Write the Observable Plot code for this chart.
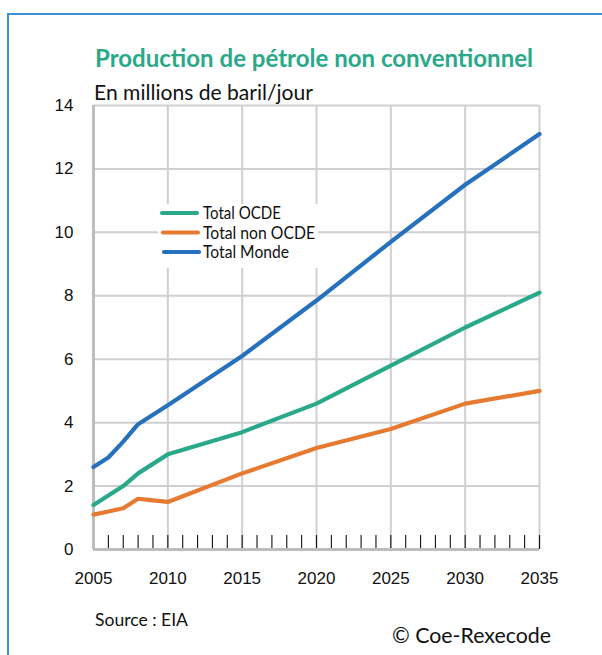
<!DOCTYPE html>
<html>
<head>
<meta charset="utf-8">
<script src="https://cdn.jsdelivr.net/npm/d3@7"></script>
<script src="https://cdn.jsdelivr.net/npm/@observablehq/plot@0.6"></script>
<style>
  html, body { margin: 0; padding: 0; background: #fff; }
  #wrap { position: relative; width: 602px; height: 655px; overflow: hidden; }
  #frame { position: absolute; left: 7px; top: 13px; width: 700px; height: 700px;
           border-left: 2px solid #3d8fd3; border-top: 2px solid #3d8fd3; }
  #chart { position: absolute; left: 0; top: 0; }
</style>
</head>
<body>
<div id="wrap"><div id="frame"></div><div id="chart"></div></div>
<script>
const title = "Production de pétrole non conventionnel";
const subtitle = "En millions de baril/jour";
const source = "Source : EIA";
const copyright = "© Coe-Rexecode";

const years = [2005, 2006, 2007, 2008, 2009, 2010, 2015, 2020, 2025, 2030, 2035];
const totalOCDE = [1.4, 1.7, 2.0, 2.4, 2.7, 3.0, 3.7, 4.6, 5.8, 7.0, 8.1];
const totalNonOCDE = [1.1, 1.2, 1.3, 1.6, 1.55, 1.5, 2.4, 3.2, 3.8, 4.6, 5.0];
const totalMonde = [2.6, 2.9, 3.4, 3.95, 4.25, 4.55, 6.1, 7.85, 9.7, 11.5, 13.1];

const seriesNames = ["Total OCDE", "Total non OCDE", "Total Monde"];
const seriesColors = ["#2aa98a", "#e67a30", "#2670bd"];
const seriesValues = [totalOCDE, totalNonOCDE, totalMonde];

const yTicks = [0, 2, 4, 6, 8, 10, 12, 14];
const xLabelTicks = [2005, 2010, 2015, 2020, 2025, 2030, 2035];
const yearTicks = d3.range(2005, 2036);

const data = seriesNames.flatMap((name, i) =>
  years.map((y, j) => ({ series: name, year: y, value: seriesValues[i][j] })));

const tickFont = "Liberation Sans, Arial, sans-serif";

const chart = Plot.plot({
  width: 602,
  height: 655,
  marginLeft: 93,
  marginRight: 63,
  marginTop: 105,
  marginBottom: 106,
  style: { fontFamily: tickFont, fontSize: "17px", color: "#111", background: "transparent", overflow: "visible" },
  x: { domain: [2005, 2035], label: null },
  y: { domain: [0, 14], label: null },
  color: { domain: seriesNames, range: seriesColors },
  marks: [
    Plot.gridX(xLabelTicks, { stroke: "#cfcfcf", strokeOpacity: 1, strokeWidth: 2 }),
    Plot.gridY(yTicks, { stroke: "#cfcfcf", strokeOpacity: 1, strokeWidth: 2 }),
    Plot.axisY(yTicks, { tickSize: 0, tickPadding: 20, fontSize: 17, tickFormat: d => String(d) }),
    Plot.axisX(xLabelTicks, { tickSize: 0, tickPadding: 22, fontSize: 17, tickFormat: d => String(d) }),
    Plot.axisX(yearTicks, { tickSize: -14, tickFormat: null, stroke: "#111", strokeWidth: 1.1, label: null, text: null }),
    Plot.ruleX([2005], { stroke: "#bdbdbd", strokeWidth: 3 }),
    Plot.ruleY([0], { stroke: "#bdbdbd", strokeWidth: 3 }),
    Plot.line(data, { x: "year", y: "value", z: "series", stroke: "series", strokeWidth: 4.2, strokeLinejoin: "round", strokeLinecap: "round" })
  ]
});

document.getElementById("chart").appendChild(chart);

const svg = d3.select(chart);
const textFont = "Lato, 'Noto Sans', sans-serif";

function addText(str, x, y, size, color, weight, len) {
  const t = svg.append("text")
    .attr("x", x).attr("y", y)
    .attr("text-anchor", "start")
    .attr("font-family", textFont)
    .attr("font-size", size)
    .attr("font-weight", weight)
    .attr("fill", color)
    .text(str);
  if (len) t.attr("textLength", len).attr("lengthAdjust", "spacingAndGlyphs");
  return t;
}

addText(title, 95, 67, 24, "#2aa98a", 700, 438);
addText(subtitle, 94, 99.5, 21, "#111", 400, 219);
addText(source, 95, 626, 16.5, "#111", 400, 93);
addText(copyright, 392, 643, 21, "#111", 400, 159);

// legend
const lg = svg.append("g");
lg.append("rect").attr("x", 158).attr("y", 204).attr("width", 160).attr("height", 64).attr("fill", "#fff");
const legendWidths = [78, 112, 86];
seriesNames.forEach((name, i) => {
  const cy = 213 + i * 19.5;
  lg.append("line").attr("x1", 162 + i).attr("x2", 197 + i).attr("y1", cy).attr("y2", cy)
    .attr("stroke", seriesColors[i]).attr("stroke-width", 4.2).attr("stroke-linecap", "round");
  lg.append("text").attr("x", 203).attr("y", cy + 6)
    .attr("text-anchor", "start")
    .attr("font-family", textFont).attr("font-size", 16.5).attr("fill", "#111")
    .attr("textLength", legendWidths[i]).attr("lengthAdjust", "spacingAndGlyphs")
    .text(name);
});
</script>
</body>
</html>
